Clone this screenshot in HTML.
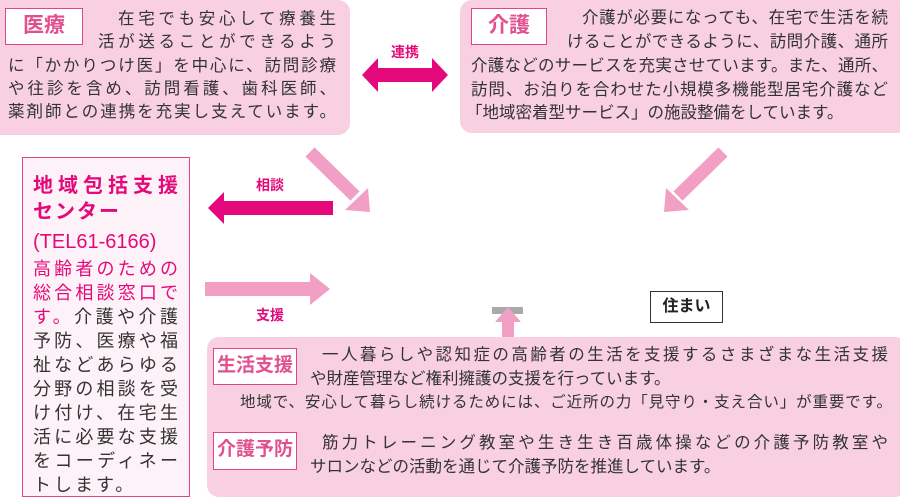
<!DOCTYPE html>
<html><head><meta charset="utf-8"><style>
body{margin:0;width:900px;height:491px;position:relative;background:#fff;overflow:hidden;font-family:"Liberation Sans","Noto Sans CJK JP",sans-serif;color:#333}
.box{position:absolute;background:#f9d0e2;border-radius:12px}
.lab{position:absolute;background:#fff;border:1.5px solid #e2448a;color:#e2508f;font-weight:bold;font-size:21px;text-align:center;box-sizing:border-box;line-height:33px;white-space:nowrap;overflow:hidden}
.l{position:absolute;font-size:16.5px;white-space:nowrap;line-height:20px}
.j{text-align:justify;text-align-last:justify;white-space:normal;overflow:hidden;height:22px}
.c{position:absolute;left:33px;width:145px;font-size:18px;line-height:24px;text-align:justify;text-align-last:justify;height:24px;overflow:hidden}
</style></head><body>
<div class="box" style="left:-10px;top:0;width:360px;height:135px"></div>
<div class="lab" style="left:5px;top:8px;width:78px;height:37px">医療</div>
<div class="l j" style="left:118px;top:9px;width:218px">在宅でも安心して療養生</div>
<div class="l j" style="left:98px;top:32px;width:238px">活が送ることができるよう</div>
<div class="l j" style="left:8px;top:56px;width:328px">に「かかりつけ医」を中心に、訪問診療</div>
<div class="l j" style="left:8px;top:79px;width:328px">や往診を含め、訪問看護、歯科医師、</div>
<div class="l j" style="left:8px;top:102px;width:328px">薬剤師との連携を充実し支えています。</div>

<div class="box" style="left:460px;top:0;width:450px;height:133px"></div>
<div class="lab" style="left:471px;top:8px;width:76px;height:37px">介護</div>
<div class="l j" style="left:582px;top:8px;width:306px">介護が必要になっても、在宅で生活を続</div>
<div class="l j" style="left:567px;top:32px;width:321px">けることができるように、訪問介護、通所</div>
<div class="l j" style="left:471px;top:56px;width:417px">介護などのサービスを充実させています。また、通所、</div>
<div class="l j" style="left:471px;top:80px;width:417px">訪問、お泊りを合わせた小規模多機能型居宅介護など</div>
<div class="l" style="left:466px;top:103px">「地域密着型サービス」の施設整備をしています。</div>

<svg style="position:absolute;left:0;top:0" width="900" height="491">
<polygon points="362,75 378,58 378,68 432,68 432,58 448,75 432,92 432,82 378,82 378,92" fill="#e4097a"/>
<polygon points="208,208 224,192 224,201 333,201 333,215 224,215 224,224" fill="#e4097a"/>
<polygon points="205,282 310,282 310,273 330,289 310,305 310,296 205,296" fill="#f29fc5"/>
<line x1="310" y1="152" x2="355" y2="196" stroke="#f29fc5" stroke-width="13"/>
<polygon points="370,212 345,210 368,188" fill="#f29fc5"/>
<line x1="723" y1="152" x2="678" y2="196" stroke="#f29fc5" stroke-width="13"/>
<polygon points="664,212 689,210 666,188" fill="#f29fc5"/>
<rect x="492" y="307" width="31" height="7" fill="#aaa"/>
<polygon points="508,307 521,322 514,322 514,340 502,340 502,322 495,322" fill="#f29fc5"/>
<text x="405" y="57" font-size="14" font-weight="bold" fill="#e4097a" text-anchor="middle" font-family="Liberation Sans,Noto Sans CJK JP,sans-serif">連携</text>
<text x="270" y="190" font-size="14" font-weight="bold" fill="#e4097a" text-anchor="middle" font-family="Liberation Sans,Noto Sans CJK JP,sans-serif">相談</text>
<text x="270" y="320" font-size="14" font-weight="bold" fill="#e4097a" text-anchor="middle" font-family="Liberation Sans,Noto Sans CJK JP,sans-serif">支援</text>
</svg>

<div style="position:absolute;left:22px;top:157px;width:168px;height:340px;border:1.5px solid #e2448a;background:#fdf2f7;box-sizing:border-box"></div>
<div class="c" style="top:172px;color:#e4097a;font-size:20px;height:28px;line-height:28px;font-weight:bold">地域包括支援</div>
<div style="position:absolute;left:33px;top:198px;color:#e4097a;font-size:20px;line-height:28px;font-weight:bold;letter-spacing:2px">センター</div>
<div class="c" style="top:228px;color:#e4097a;font-size:20px;height:28px;line-height:28px">(TEL61-6166)</div>
<div class="c" style="top:257px;color:#e4097a">高齢者のための</div>
<div class="c" style="top:281px;color:#e4097a">総合相談窓口で<span></span></div>
<div class="c" style="top:305px"><span style="color:#e4097a">す。</span>介護や介護</div>
<div class="c" style="top:329px">予防、医療や福</div>
<div class="c" style="top:353px">祉などあらゆる</div>
<div class="c" style="top:377px">分野の相談を受</div>
<div class="c" style="top:401px">け付け、在宅生</div>
<div class="c" style="top:425px">活に必要な支援</div>
<div class="c" style="top:449px">をコーディネー</div>
<div style="position:absolute;left:33px;top:473px;font-size:18px;line-height:24px;letter-spacing:3px">トします。</div>

<div style="position:absolute;left:650px;top:291px;width:73px;height:32px;border:1.5px solid #333;box-sizing:border-box;background:#fff;font-weight:bold;font-size:16px;text-align:center;line-height:29px;color:#222">住まい</div>

<div class="box" style="left:207px;top:337px;width:700px;height:160px"></div>
<div class="lab" style="left:213px;top:348px;width:84px;height:37px;font-size:19px">生活支援</div>
<div class="l j" style="left:322px;top:345px;width:566px">一人暮らしや認知症の高齢者の生活を支援するさまざまな生活支援</div>
<div class="l" style="left:310px;top:369px">や財産管理など権利擁護の支援を行っています。</div>
<div class="l j" style="left:240px;top:393px;width:652px;font-size:15.5px">地域で、安心して暮らし続けるためには、ご近所の力「見守り・支え合い」が重要です。</div>
<div class="lab" style="left:213px;top:432px;width:84px;height:38px;line-height:34px;font-size:19px">介護予防</div>
<div class="l j" style="left:322px;top:433px;width:566px">筋力トレーニング教室や生き生き百歳体操などの介護予防教室や</div>
<div class="l" style="left:310px;top:457px">サロンなどの活動を通じて介護予防を推進しています。</div>
</body></html>
